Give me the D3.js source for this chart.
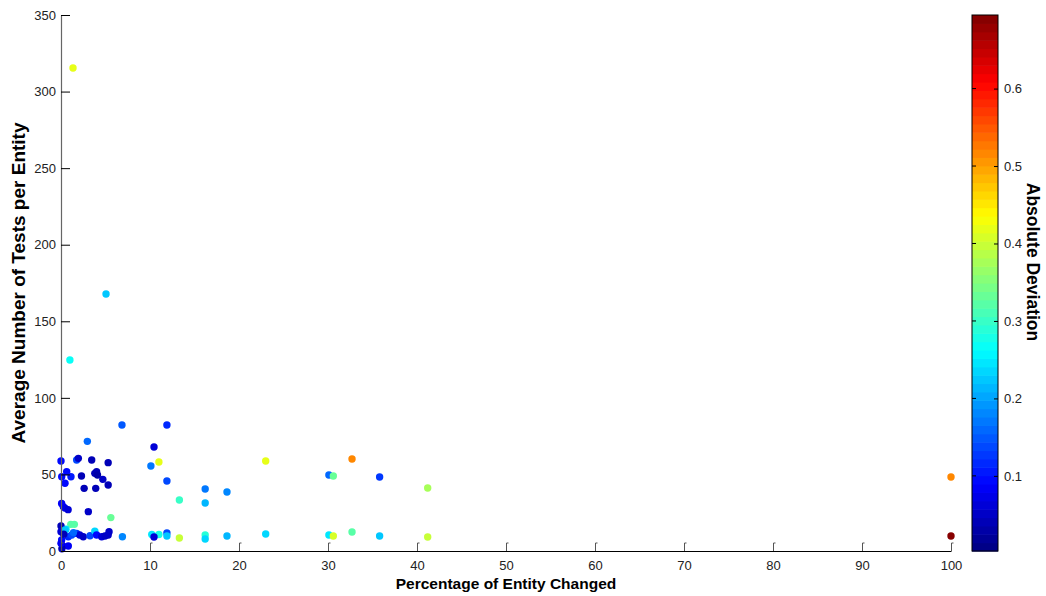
<!DOCTYPE html>
<html>
<head>
<meta charset="utf-8">
<script src="https://cdn.jsdelivr.net/npm/d3@7"></script>
<style>
  body { margin: 0; background: #fff; }
  svg { display: block; font-family: "Liberation Sans", Arial, sans-serif; }
</style>
</head>
<body>
<script>
// percentage of entity changed (x), avg tests per entity (y), absolute deviation (colour)
var pctChanged = [1.35, 5.06, 1.0, 6.85, 11.9, 10.45, 2.96, 10.1, 11.0, 11.9, 23.0, 16.2, 18.65, 16.2, 13.3,
  30.1, 30.6, 32.7, 35.8, 41.2, 100, 100, 30.1, 30.6, 32.7, 35.8, 41.2, 23.0, 18.65, 16.2, 16.2, 13.3,
  11.9, 11.9, 11.0, 10.2, 10.45, 6.9,
  0, 1.76, 1.95, 3.45, 5.3, 0.64, 0.08, 1.12, 2.3, 3.8, 4.0, 4.1, 4.7, 5.3, 0.45, 2.6, 3.9,
  0.07, 0.25, 0.45, 0.8, 3.07, 5.6, 1.1, 1.5, 0.56, 1.76, 2.1, 2.5, 3.26, 3.8, 4.0, 4.57, 4.94, 5.3, 5.4,
  0.0, 0.0, 0.45, 0.82, 1.2, 0.07, 0.2, 0.82, 0.1, 0.0, 0.3, 1.4];
var avgTests = [315.4, 167.8, 124.7, 82.3, 82.3, 67.9, 71.6, 55.5, 58.1, 45.7, 58.8, 40.5, 38.5, 31.3, 33.3,
  49.6, 49.0, 60.1, 48.3, 41.1, 48.3, 9.8, 10.4, 9.8, 12.4, 9.8, 9.1, 11.1, 9.8, 10.4, 7.8, 8.5,
  11.8, 9.8, 10.8, 10.8, 9.1, 9.3,
  58.8, 59.4, 60.5, 59.4, 57.7, 51.8, 48.5, 48.5, 49.0, 50.7, 51.8, 49.6, 46.8, 43.1, 44.2, 40.9, 40.9,
  31, 29, 28, 27, 25.7, 21.8, 17.4, 17.4, 14.2, 11.5, 10.4, 9.3, 10, 13, 10.4, 9.3, 9.8, 10.4, 12.6,
  16.3, 12.6, 13.7, 9.3, 10.4, 7.2, 3.3, 3.3, 1.5, 5, 11, 12];
var absDeviation = [0.42, 0.22, 0.27, 0.15, 0.12, 0.06, 0.16, 0.17, 0.42, 0.14, 0.42, 0.17, 0.18, 0.21, 0.3,
  0.16, 0.33, 0.52, 0.13, 0.38, 0.52, 0.69, 0.25, 0.41, 0.32, 0.22, 0.4, 0.24, 0.21, 0.29, 0.24, 0.4,
  0.14, 0.22, 0.28, 0.25, 0.06, 0.18,
  0.1, 0.14, 0.05, 0.04, 0.04, 0.1, 0.1, 0.11, 0.04, 0.04, 0.04, 0.03, 0.05, 0.04, 0.1, 0.04, 0.04,
  0.08, 0.08, 0.07, 0.06, 0.05, 0.33, 0.32, 0.32, 0.25, 0.13, 0.06, 0.05, 0.14, 0.24, 0.09, 0.06, 0.05, 0.05, 0.05,
  0.04, 0.06, 0.22, 0.12, 0.14, 0.1, 0.05, 0.08, 0.04, 0.08, 0.04, 0.16];

var xTicks = [0, 10, 20, 30, 40, 50, 60, 70, 80, 90, 100];
var yTicks = [0, 50, 100, 150, 200, 250, 300, 350];
var cTicks = [0.1, 0.2, 0.3, 0.4, 0.5, 0.6];
var cRange = [0.003, 0.695];

var width = 1046, height = 596;
var plot = { left: 61, right: 951, top: 15, bottom: 551 };
var bar = { left: 972, right: 998 };

// MATLAB jet, 64 levels
function jet(t) {
  var c = function (v) { return Math.max(0, Math.min(1, v)); };
  return d3.rgb(255 * c(1.5 - Math.abs(4 * t - 3)), 255 * c(1.5 - Math.abs(4 * t - 2)), 255 * c(1.5 - Math.abs(4 * t - 1)));
}
var nLevels = 64;
function colorOf(v) {
  var t = (v - cRange[0]) / (cRange[1] - cRange[0]);
  var k = Math.max(0, Math.min(nLevels - 1, Math.floor(t * nLevels)));
  return jet((k + 0.5) / nLevels);
}

var svg = d3.select("body").append("svg")
  .attr("width", width)
  .attr("height", height);

var x = d3.scaleLinear().domain([0, 100]).range([plot.left, plot.right]);
var y = d3.scaleLinear().domain([0, 350]).range([plot.bottom, plot.top]);

// points
var data = pctChanged.map(function (d, i) { return { x: d, y: avgTests[i], c: absDeviation[i] }; });
svg.append("g").selectAll("circle")
  .data(data)
  .enter().append("circle")
  .attr("cx", function (d) { return x(d.x); })
  .attr("cy", function (d) { return y(d.y); })
  .attr("r", 3.7)
  .attr("fill", function (d) { return colorOf(d.c); });

// y axis
var yAxis = svg.append("g")
  .attr("transform", "translate(" + plot.left + ",0)")
  .call(d3.axisLeft(y).tickValues(yTicks).tickSizeInner(-9).tickSizeOuter(0).tickPadding(5));
yAxis.select(".domain").attr("stroke", "#666").attr("stroke-width", 1.2);
yAxis.selectAll(".tick line").attr("stroke", "#000");
yAxis.selectAll("text").attr("font-size", 13).attr("fill", "#222");

// x axis
var xAxis = svg.append("g")
  .attr("transform", "translate(0," + plot.bottom + ")")
  .call(d3.axisBottom(x).tickValues(xTicks).tickSizeInner(-8).tickSizeOuter(0).tickPadding(10));
xAxis.select(".domain").attr("stroke", "#000").attr("stroke-width", 1.2);
xAxis.selectAll(".tick line").attr("stroke", "#555");
xAxis.selectAll(".tick").append("line")
  .attr("x1", 0).attr("x2", 2).attr("y1", -8).attr("y2", -8)
  .attr("stroke", "#555");
xAxis.selectAll("text").attr("font-size", 13).attr("fill", "#222");

// axis titles
svg.append("text")
  .attr("x", (plot.left + plot.right) / 2)
  .attr("y", 589)
  .attr("text-anchor", "middle")
  .attr("font-size", 15.5)
  .attr("font-weight", "bold")
  .text("Percentage of Entity Changed");

svg.append("text")
  .attr("transform", "translate(25," + ((plot.top + plot.bottom) / 2) + ") rotate(-90)")
  .attr("text-anchor", "middle")
  .attr("font-size", 19)
  .attr("font-weight", "bold")
  .text("Average Number of Tests per Entity");

// colour bar
var c = d3.scaleLinear().domain(cRange).range([plot.bottom, plot.top]);
var levels = d3.range(nLevels);
svg.append("g").selectAll("rect")
  .data(levels)
  .enter().append("rect")
  .attr("x", bar.left)
  .attr("width", bar.right - bar.left)
  .attr("y", function (k) { return c(cRange[0] + (k + 1) / nLevels * (cRange[1] - cRange[0])); })
  .attr("height", function (k) {
    return c(cRange[0] + k / nLevels * (cRange[1] - cRange[0])) - c(cRange[0] + (k + 1) / nLevels * (cRange[1] - cRange[0])) + 0.6;
  })
  .attr("fill", function (k) { return jet((k + 0.5) / nLevels); });

svg.append("rect")
  .attr("x", bar.left).attr("y", plot.top)
  .attr("width", bar.right - bar.left).attr("height", plot.bottom - plot.top)
  .attr("fill", "none").attr("stroke", "#000").attr("stroke-width", 1);

var cAxis = svg.append("g")
  .attr("transform", "translate(" + bar.right + ",0)")
  .call(d3.axisRight(c).tickValues(cTicks).tickFormat(d3.format(".1f")).tickSizeInner(-4).tickSizeOuter(0).tickPadding(6));
cAxis.select(".domain").remove();
cAxis.selectAll("text").attr("font-size", 13).attr("fill", "#222");
svg.append("g").selectAll("line")
  .data(cTicks)
  .enter().append("line")
  .attr("x1", bar.left).attr("x2", bar.left + 4)
  .attr("y1", function (d) { return c(d); })
  .attr("y2", function (d) { return c(d); })
  .attr("stroke", "#000");

svg.append("text")
  .attr("transform", "translate(1027,262) rotate(90)")
  .attr("text-anchor", "middle")
  .attr("font-size", 17.5)
  .attr("font-weight", "bold")
  .text("Absolute Deviation");
</script>
</body>
</html>
